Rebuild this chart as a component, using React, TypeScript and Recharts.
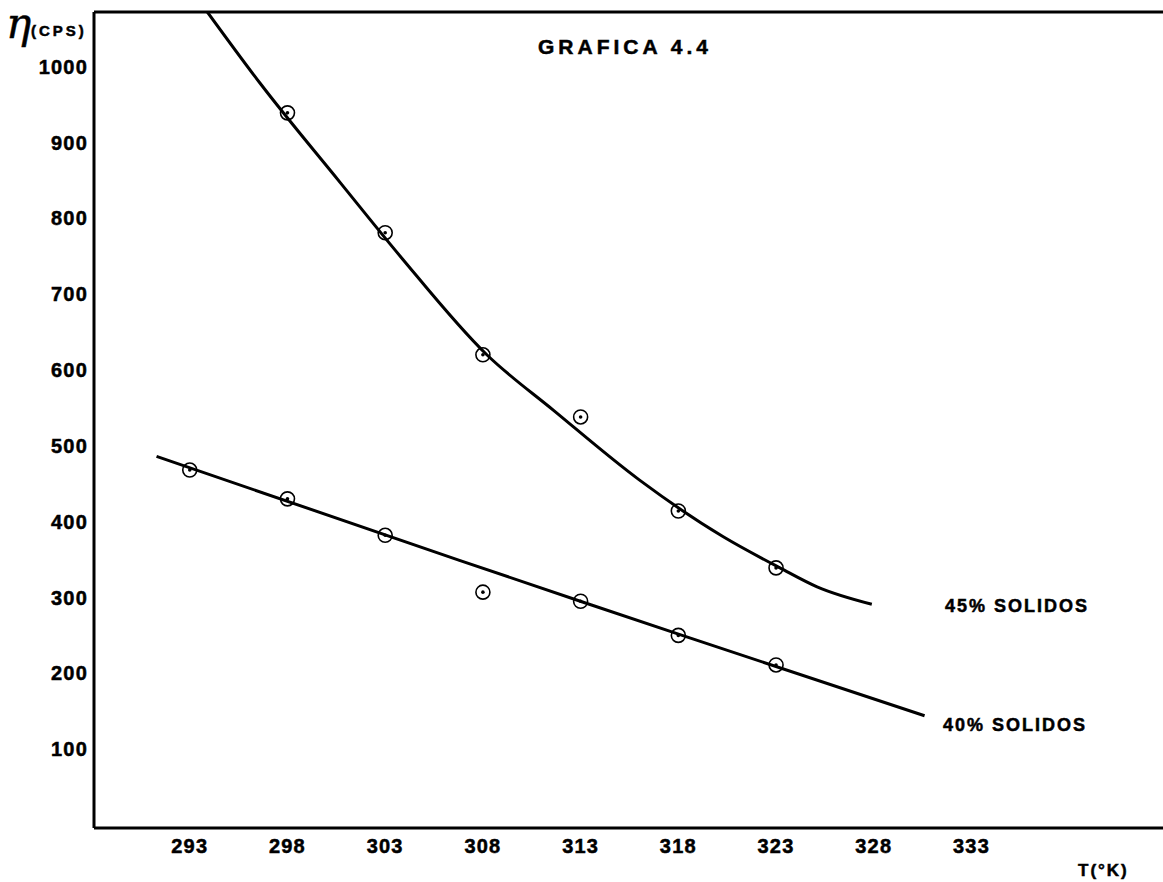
import React from 'react';
import { ComposedChart, Line, Scatter, XAxis, YAxis, ReferenceLine, Customized } from 'recharts';

const xTicks = [293, 298, 303, 308, 313, 318, 323, 328, 333];
const yTicks = [100, 200, 300, 400, 500, 600, 700, 800, 900, 1000];

// measured points (circles)
const pointsT45 = [298, 303, 308, 313, 318, 323];
const pointsV45 = [939, 781, 620, 538, 414, 339];
const pointsT40 = [293, 298, 303, 308, 313, 318, 323];
const pointsV40 = [468, 430, 382, 307, 295, 250, 211];

// fitted hand-drawn curves
const curveT45 = [293.9, 296.6, 300.7, 303.8, 308.2, 311.6, 316.0, 320.3, 323.2, 325.1, 327.9];
const curveV45 = [1072, 978, 847, 749, 620, 547, 455, 380, 339, 314, 291];
const curveT40 = [291.3, 306.8, 313.1, 318.2, 330.6];
const curveV40 = [486, 349, 294, 250, 144];

const zip = (t: number[], v: number[]) => t.map((x, i) => ({ t: x, v: v[i] }));
const pts45 = zip(pointsT45, pointsV45);
const pts40 = zip(pointsT40, pointsV40);
const line45 = zip(curveT45, curveV45);
const line40 = zip(curveT40, curveV40);

const FONT = '"Liberation Sans", Arial, sans-serif';

const Marker = (props: any) => {
  const { cx, cy } = props;
  if (cx == null || cy == null) return null;
  return (
    <g>
      <circle cx={cx} cy={cy} r={7} fill="none" stroke="#000" strokeWidth={1.6} />
      <circle cx={cx} cy={cy} r={1.8} fill="#000" />
    </g>
  );
};

const Texts = () => (
  <g fontFamily={FONT} fontWeight="bold" fill="#000" stroke="#000" strokeWidth={0.5}>
    <text x={6} y={38} fontSize={42} fontStyle="italic" fontWeight="normal" fontFamily='"DejaVu Serif", serif'>η</text>
    <text x={31} y={30} fontSize={15} letterSpacing={3} dominantBaseline="central">(CPS)</text>
    <text x={625} y={46} fontSize={21} letterSpacing={4} textAnchor="middle" dominantBaseline="central">GRAFICA 4.4</text>
    <text x={945} y={606} fontSize={18} letterSpacing={2} dominantBaseline="central">45% SOLIDOS</text>
    <text x={943} y={725} fontSize={18} letterSpacing={2} dominantBaseline="central">40% SOLIDOS</text>
    <text x={1078} y={870} fontSize={17} letterSpacing={2} dominantBaseline="central">T(°K)</text>
  </g>
);

const tickStyle = { fill: '#000', stroke: '#000', strokeWidth: 0.5, fontSize: 20, fontWeight: 'bold', fontFamily: FONT, letterSpacing: 1.2 };

export default function App() {
  return (
    <div style={{ position: 'absolute', left: 0, top: 0, background: '#fff' }}>
      <ComposedChart width={1163} height={882} margin={{ top: 12, right: 0, left: 0, bottom: 0 }}>
        <XAxis
          dataKey="t"
          type="number"
          domain={[288.1, 342.8]}
          allowDataOverflow
          ticks={xTicks}
          height={54}
          axisLine={{ stroke: '#000', strokeWidth: 3 }}
          tickLine={false}
          tickSize={6}
          tickMargin={5}
          tick={tickStyle}
        />
        <YAxis
          dataKey="v"
          type="number"
          domain={[-4, 1072]}
          allowDataOverflow
          ticks={yTicks}
          width={94}
          axisLine={{ stroke: '#000', strokeWidth: 3 }}
          tickLine={false}
          tickSize={6}
          tickMargin={0}
          tick={tickStyle}
        />
        <ReferenceLine y={1072} stroke="#000" strokeWidth={3} />
        <Line data={line45} dataKey="v" type="monotone" stroke="#000" strokeWidth={3} dot={false} activeDot={false} isAnimationActive={false} />
        <Line data={line40} dataKey="v" type="linear" stroke="#000" strokeWidth={3} dot={false} activeDot={false} isAnimationActive={false} />
        <Scatter data={pts45} dataKey="v" shape={<Marker />} isAnimationActive={false} />
        <Scatter data={pts40} dataKey="v" shape={<Marker />} isAnimationActive={false} />
        <Customized component={Texts} />
      </ComposedChart>
    </div>
  );
}
